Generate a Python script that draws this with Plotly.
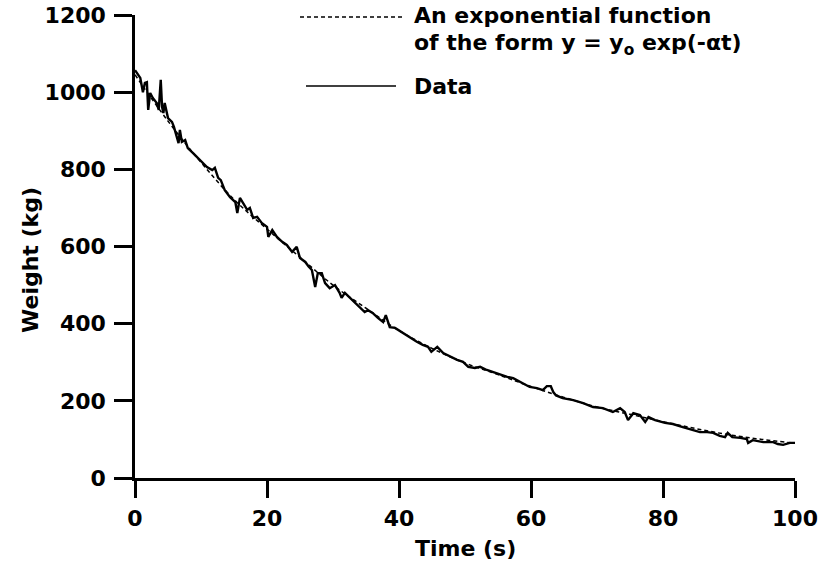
import plotly.graph_objects as go

# ---- data ----
time_s = [0, 0.3, 0.8, 1.2, 1.5, 1.8, 2.0, 2.3, 2.7, 3.3, 3.6, 3.9, 4.1, 4.3, 4.5, 5.0, 5.6, 5.9,
          6.4, 6.6, 6.8, 7.1, 7.6, 8.0, 8.8, 9.8, 10.9, 11.7, 12.1, 12.6, 13.0, 13.6, 14.4, 15.2,
          15.5, 15.9, 16.4, 17.0, 17.4, 17.9, 18.5, 19.2, 20.0, 20.2, 20.8, 21.5, 22.3, 23.0,
          23.8, 24.5, 25.0, 25.8, 26.3, 26.8, 27.3, 27.7, 28.3, 28.8, 29.5, 30.3, 31.0, 31.3,
          31.8, 32.6, 33.3, 34.1, 34.8, 35.3, 36.0, 36.8, 37.6, 38.0, 38.6, 39.4, 40.2, 41.0,
          41.7, 42.7, 43.6, 44.4, 44.9, 45.8, 46.7, 47.3, 47.7, 48.8, 49.7, 50.5, 51.5, 52.3,
          53.3, 54.2, 55.3, 56.4, 57.3, 58.2, 59.0, 59.8, 60.9, 61.8, 62.4, 63.0, 63.4, 63.8,
          64.8, 66.4, 67.9, 69.4, 70.9, 72.4, 73.5, 74.2, 74.7, 75.5, 76.5, 77.3, 77.8, 78.8,
          80.3, 81.5, 83.0, 84.5, 85.6, 86.7, 87.6, 88.6, 89.4, 89.8, 90.5, 91.7, 92.7, 92.9,
          93.6, 95.2, 96.7, 97.4, 98.2, 99.2, 100.0]
weight_kg = [1057, 1050, 1037, 1000, 1024, 1026, 954, 998, 985, 972, 954, 1032, 962, 946, 972, 933,
             923, 910, 884, 868, 902, 871, 876, 855, 842, 824, 806, 798, 804, 778, 772, 746, 728,
             715, 687, 726, 713, 695, 700, 674, 677, 661, 651, 625, 643, 625, 612, 604, 586, 599,
             570, 560, 548, 539, 495, 531, 531, 505, 492, 500, 480, 467, 480, 467, 456, 443, 430,
             435, 428, 415, 404, 422, 391, 389, 380, 372, 365, 353, 345, 340, 327, 340, 324, 319,
             314, 306, 301, 288, 285, 288, 280, 275, 267, 262, 259, 250, 243, 236, 233, 228, 238,
             238, 222, 214, 207, 202, 194, 184, 181, 171, 181, 171, 150, 168, 163, 145, 158, 150,
             143, 140, 132, 124, 119, 119, 117, 109, 106, 117, 106, 104, 101, 91, 98, 93, 93, 88,
             86, 91, 91]

fit_time_s = [0, 5, 10, 15, 20, 25, 30, 35, 40, 45, 50, 55, 60, 65, 70, 75, 80, 85, 90, 95, 100]
fit_weight_kg = [1045, 925, 818, 722, 645, 572, 500, 440, 382, 336, 298, 268, 237, 209, 184, 165,
                 146, 128, 112, 100, 90]

x_ticks = [0, 20, 40, 60, 80, 100]
y_ticks = [0, 200, 400, 600, 800, 1000, 1200]

# ---- layout geometry (pixels) ----
W, H = 823, 561
L, R, T, B = 135, 28, 15, 83
PW, PH = W - L - R, H - T - B


def px(xp):
    return (xp - L) / PW


def py(yp):
    return (H - B - yp) / PH


FONT = dict(family="DejaVu Sans, Arial, sans-serif", size=22, color="black", weight="bold")

fig = go.Figure()
fig.add_trace(go.Scatter(x=fit_time_s, y=fit_weight_kg, mode="lines", line_shape="spline",
                         line=dict(color="black", width=1.5, dash="4px,3px"),
                         showlegend=False, hoverinfo="skip"))
fig.add_trace(go.Scatter(x=time_s, y=weight_kg, mode="lines",
                         line=dict(color="black", width=2.4),
                         showlegend=False))

axis_common = dict(showgrid=False, zeroline=False, showline=True, linecolor="black",
                   ticks="outside", tickcolor="black", tickfont=FONT, automargin=False)
fig.update_xaxes(range=[0, 100], tickvals=x_ticks, ticklen=17, tickwidth=3, linewidth=3,
                 ticklabelstandoff=2, **axis_common)
fig.update_yaxes(range=[0, 1200], tickvals=y_ticks, ticklen=18, tickwidth=3, linewidth=2.5,
                 ticklabelstandoff=4, **axis_common)

annotations = [
    dict(text="Time (s)", x=px(465), y=py(548), xanchor="center", yanchor="middle"),
    dict(text="Weight (kg)", x=px(30), y=py(260), xanchor="center", yanchor="middle",
         textangle=-90),
    dict(text="An exponential function", x=px(412), y=py(15), xanchor="left", yanchor="middle"),
    dict(text="of the form y = y<sub>o</sub> exp(-αt)", x=px(412), y=py(44), xanchor="left",
         yanchor="middle"),
    dict(text="Data", x=px(412), y=py(86), xanchor="left", yanchor="middle"),
]
for a in annotations:
    a.update(xref="paper", yref="paper", showarrow=False, font=FONT)

shapes = [
    dict(type="line", x0=px(300), x1=px(402), y0=py(17), y1=py(17),
         line=dict(color="black", width=1.5, dash="4px,3px")),
    dict(type="line", x0=px(306), x1=px(396), y0=py(86), y1=py(86),
         line=dict(color="black", width=1.5)),
]
for s in shapes:
    s.update(xref="paper", yref="paper")

fig.update_layout(width=W, height=H, margin=dict(l=L, r=R, t=T, b=B, autoexpand=False),
                  plot_bgcolor="white", paper_bgcolor="white",
                  annotations=annotations, shapes=shapes, showlegend=False)

fig.write_html("out.html")
